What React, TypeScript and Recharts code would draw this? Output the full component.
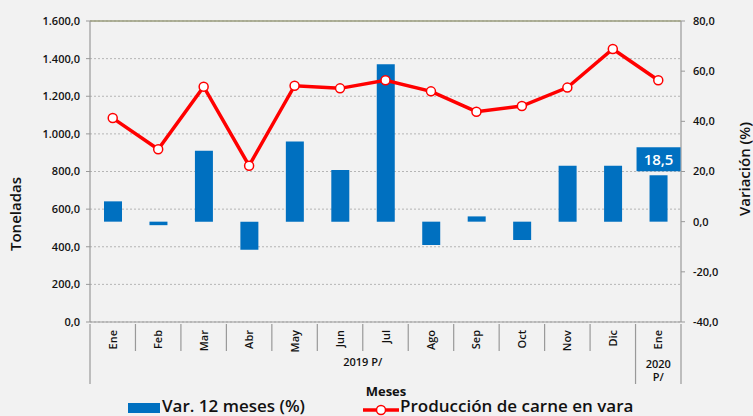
import { ComposedChart, Bar, Line, XAxis, YAxis, CartesianGrid, ReferenceLine, LabelList } from 'recharts';

const months = ['Ene', 'Feb', 'Mar', 'Abr', 'May', 'Jun', 'Jul', 'Ago', 'Sep', 'Oct', 'Nov', 'Dic', 'Ene'];
const variacion = [8.1, -1.4, 28.3, -11.2, 32.0, 20.6, 62.8, -9.3, 2.1, -7.3, 22.3, 22.3, 18.5];
const produccion = [1084, 918, 1251, 831, 1256, 1242, 1285, 1226, 1118, 1148, 1246, 1451, 1285];
const leftTicks = [0, 200, 400, 600, 800, 1000, 1200, 1400, 1600];
const rightTicks = [-40, -20, 0, 20, 40, 60, 80];

const data = months.map((m, i) => ({
  id: `${m}-${i}`,
  month: m,
  variacion: variacion[i],
  produccion: produccion[i],
}));

const W = 753;
const H = 416;
const LEFT_W = 90;
const RIGHT_W = 72;
const XAXIS_H = 94;
const BAND = (W - LEFT_W - RIGHT_W) / months.length;
const FONT = '"Open Sans", sans-serif';

const fmt = (v: number) => {
  const neg = v < 0;
  const [i, d] = Math.abs(v).toFixed(1).split('.');
  const grouped = i.replace(/\B(?=(\d{3})+(?!\d))/g, '.');
  return `${neg ? '-' : ''}${grouped},${d}`;
};

const MonthTick = (props: any) => {
  const { x, y, payload, index } = props;
  const month = months[index] ?? payload.value;
  const left = x - BAND / 2;
  const right = x + BAND / 2;
  const last = index === months.length - 1;
  return (
    <g>
      <line x1={left} y1={y} x2={left} y2={index === 0 || last ? y + 60 : y + 27} stroke="#999" strokeWidth={1.2} />
      {last && <line x1={right} y1={y} x2={right} y2={y + 60} stroke="#999" strokeWidth={1.2} />}
      <text
        x={0}
        y={0}
        transform={`translate(${x + 4},${y + 6}) rotate(-90)`}
        textAnchor="end"
        fontFamily={FONT}
        fontSize={11}
        fontWeight={600}
        fill="#111"
      >
        {month}
      </text>
      {index === 5 && (
        <text x={right} y={y + 42} textAnchor="middle" fontFamily={FONT} fontSize={11} fontWeight={600} fill="#111">
          2019 P/
        </text>
      )}
      {last && (
        <>
          <text x={x} y={y + 44} textAnchor="middle" fontFamily={FONT} fontSize={11} fontWeight={600} fill="#111">
            2020
          </text>
          <text x={x} y={y + 57} textAnchor="middle" fontFamily={FONT} fontSize={11} fontWeight={600} fill="#111">
            P/
          </text>
        </>
      )}
    </g>
  );
};

const BarLabel = (props: any) => {
  const { x, y, width, index, value } = props;
  if (index !== months.length - 1) return null;
  const cx = x + width / 2;
  return (
    <g>
      <rect x={cx - 22} y={y - 28} width={44} height={24} fill="#0070c0" />
      <text x={cx} y={y - 10} textAnchor="middle" fontFamily={FONT} fontSize={15} fontWeight={600} fill="#fff">
        {fmt(value)}
      </text>
    </g>
  );
};

export default function App() {
  return (
    <div style={{ position: 'fixed', left: 0, top: 0, width: W, height: H, background: '#f2f2f2', overflow: 'hidden' }}>
      <ComposedChart width={W} height={H} data={data} margin={{ top: 21, right: 0, left: 0, bottom: 0 }}>
        <CartesianGrid yAxisId="left" vertical={false} strokeDasharray="2 2" stroke="#b5b5b5" />
        <XAxis
          dataKey="id"
          height={XAXIS_H}
          interval={0}
          tick={<MonthTick />}
          tickLine={false}
          tickSize={0}
          axisLine={{ stroke: '#999', strokeWidth: 1.2 }}
        />
        <YAxis
          yAxisId="left"
          orientation="left"
          width={LEFT_W}
          domain={[0, 1600]}
          ticks={leftTicks}
          tickFormatter={fmt}
          axisLine={{ stroke: '#999', strokeWidth: 1.2 }}
          tickLine={{ stroke: '#999' }}
          tickSize={4}
          tickMargin={6}
          tick={{ fill: '#111', fontSize: 11, fontWeight: 600, fontFamily: FONT }}
        />
        <YAxis
          yAxisId="right"
          orientation="right"
          width={RIGHT_W}
          domain={[-40, 80]}
          ticks={rightTicks}
          tickFormatter={fmt}
          axisLine={{ stroke: '#999', strokeWidth: 1.2 }}
          tickLine={{ stroke: '#999' }}
          tickSize={4}
          tickMargin={8}
          tick={{ fill: '#111', fontSize: 11, fontWeight: 600, fontFamily: FONT }}
        />
        <ReferenceLine yAxisId="left" y={1600} stroke="#9a9c7c" strokeWidth={1.5} />
        <Bar yAxisId="right" dataKey="variacion" fill="#0070c0" barSize={18} isAnimationActive={false}>
          <LabelList dataKey="variacion" content={<BarLabel />} />
        </Bar>
        <Line
          yAxisId="left"
          dataKey="produccion"
          stroke="#ff0000"
          strokeWidth={3.5}
          dot={{ r: 4.5, fill: '#fff', stroke: '#ff0000', strokeWidth: 1.5 }}
          isAnimationActive={false}
        />
        <text
          transform="translate(21,214) rotate(-90)"
          textAnchor="middle"
          fontFamily={FONT}
          fontSize={15}
          fontWeight={600}
          fill="#111"
        >
          Toneladas
        </text>
        <text
          transform="translate(750,169) rotate(-90)"
          textAnchor="middle"
          fontFamily={FONT}
          fontSize={15}
          fontWeight={600}
          fill="#111"
        >
          Variación (%)
        </text>
        <text x={386} y={396} textAnchor="middle" fontFamily={FONT} fontSize={13} fontWeight={700} fill="#111">
          Meses
        </text>
      </ComposedChart>
      <div
        style={{
          position: 'absolute',
          left: 0,
          top: 396,
          width: W,
          fontFamily: FONT,
          fontSize: 17,
          fontWeight: 600,
          color: '#111',
          lineHeight: '20px',
        }}
      >
        <span style={{ position: 'absolute', left: 128, top: 7, width: 32, height: 10, background: '#0070c0' }} />
        <span style={{ position: 'absolute', left: 162, top: 0, whiteSpace: 'nowrap' }}>Var. 12 meses (%)</span>
        <svg style={{ position: 'absolute', left: 362, top: 3 }} width={38} height={18}>
          <line x1={1} y1={11} x2={37} y2={11} stroke="#ff0000" strokeWidth={3.5} />
          <circle cx={19} cy={11} r={4.5} fill="#fff" stroke="#ff0000" strokeWidth={1.5} />
        </svg>
        <span style={{ position: 'absolute', left: 400, top: 0, whiteSpace: 'nowrap' }}>Producción de carne en vara</span>
      </div>
    </div>
  );
}
